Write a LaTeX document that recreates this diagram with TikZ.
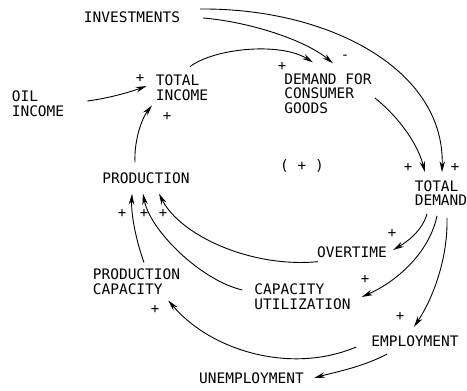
\documentclass[tikz,border=0pt]{standalone}
\usepackage{fontspec}
\setmonofont{DejaVu Sans Mono}
\usetikzlibrary{arrows.meta,calc}
\tikzset{
  lbl/.style={inner sep=0pt,align=left,font=\ttfamily\fontsize{14.5}{14.5}\selectfont},
  sgn/.style={inner sep=0pt,font=\ttfamily\fontsize{14}{14}\selectfont},
  arr/.style={line width=0.9pt,-{Stealth[length=11pt,width=5.5pt]}}
}
\begin{document}
\begin{tikzpicture}[x=1pt,y=-1pt]
  \useasboundingbox (0,0) rectangle (467,391);
  % variables
  \node[lbl] (inv)   at (132,17)    {INVESTMENTS};
  \node[lbl] (oil)   at (38,103.5)  {OIL\\INCOME};
  \node[lbl] (tinc)  at (182,87.5)  {TOTAL\\INCOME};
  \node[lbl] (dcg)   at (328,93.5)  {DEMAND FOR\\CONSUMER\\GOODS};
  \node[lbl] (prod)  at (146,178)   {PRODUCTION};
  \node[lbl] (tdem)  at (441,193)   {TOTAL\\DEMAND};
  \node[lbl] (over)  at (352,252)   {OVERTIME};
  \node[lbl] (capu)  at (302.5,296.5) {CAPACITY\\UTILIZATION};
  \node[lbl] (pcap)  at (136.5,281.5) {PRODUCTION\\CAPACITY};
  \node[lbl] (emp)   at (415,341.5) {EMPLOYMENT};
  \node[lbl] (unemp) at (251.5,378) {UNEMPLOYMENT};
  \node[lbl] (loop)  at (302,166)   {( + )};
  % signs
  \node[sgn] (s1)  at (140,78)  {+};
  \node[sgn] (s2)  at (167,116) {+};
  \node[sgn] (s3)  at (282,66)  {+};
  \node[sgn] (s4)  at (345,57)  {-};
  \node[sgn] (s5)  at (408,167) {+};
  \node[sgn] (s6)  at (455,167) {+};
  \node[sgn] (s7)  at (392,233) {+};
  \node[sgn] (s8)  at (365,279) {+};
  \node[sgn] (s9)  at (400,316) {+};
  \node[sgn] (s10) at (155,309) {+};
  \node[sgn] (s11) at (122,213) {+};
  \node[sgn] (s12) at (144,213) {+};
  \node[sgn] (s13) at (163,213) {+};
  % links
  \draw[arr] ($(inv.east)+(20,-8)$) .. controls (330,8) and (445,70) .. ($(tdem.north)+(1,-8)$);
  \draw[arr] ($(inv.east)+(23,1)$) .. controls (250,22) and (305,40) .. ($(dcg.north)+(5,-10)$);
  \draw[arr] ($(tinc.north)+(8,-8)$) .. controls (215,48) and (280,42) .. ($(dcg.north)+(-15,-11)$);
  \draw[arr] ($(oil.east)+(23,-2.5)$) .. controls (110,98) and (130,92) .. ($(tinc.west)+(-9,-1.5)$);
  \draw[arr] ($(prod.north)+(-11,-10)$) .. controls (134,140) and (142,118) .. ($(tinc.south)+(-30,5)$);
  \draw[arr] ($(dcg.east)+(3,4.5)$) .. controls (400,118) and (418,145) .. ($(tdem.north)+(-16,-8)$);
  \draw[arr] ($(tdem.south)+(-14,8)$) .. controls (422,232) and (405,243) .. ($(over.east)+(6,-2)$);
  \draw[arr] ($(tdem.south)+(-4,10)$) .. controls (430,250) and (400,280) .. ($(capu.east)+(11,0.5)$);
  \draw[arr] ($(tdem.south)+(6,12)$) .. controls (448,260) and (432,300) .. ($(emp.north)+(-1,-9)$);
  \draw[arr] ($(emp.south)+(-28,7)$) .. controls (360,368) and (335,372) .. ($(unemp.east)+(10,0)$);
  \draw[arr] ($(over.south west)+(1,4)$) .. controls (250,268) and (180,235) .. ($(prod.south)+(13,10)$);
  \draw[arr] ($(capu.west)+(-12,-6.5)$) .. controls (200,280) and (150,230) .. ($(prod.south)+(-3,10)$);
  \draw[arr] ($(emp.west)+(-15,5.5)$) .. controls (290,375) and (210,350) .. ($(pcap.south east)+(-12,6)$);
  \draw[arr] ($(pcap.north)+(7.5,-6)$) .. controls (136,240) and (131,215) .. ($(prod.south)+(-14,10)$);
\end{tikzpicture}
\end{document}
